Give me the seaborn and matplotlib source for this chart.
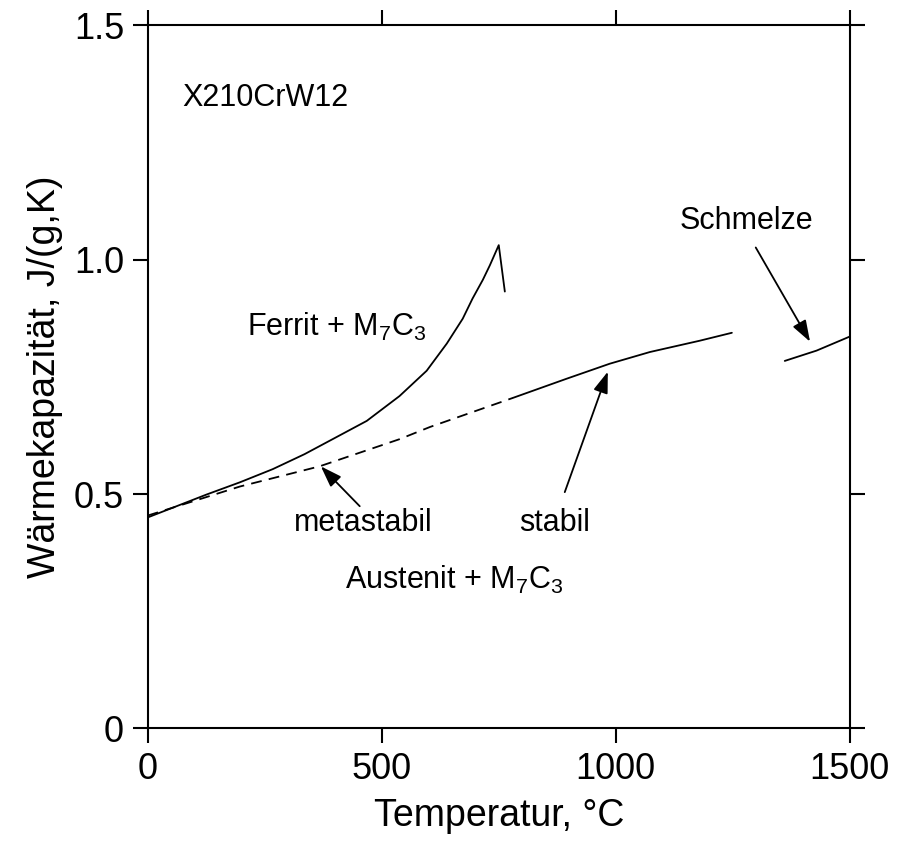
import numpy as np
import pandas as pd
import matplotlib
matplotlib.use("Agg")
import matplotlib.pyplot as plt
import seaborn as sns

sns.set_style("ticks")
plt.rcParams['font.family'] = ['Liberation Sans', 'DejaVu Sans']
plt.rcParams['mathtext.fontset'] = 'custom'
plt.rcParams['mathtext.rm'] = 'Liberation Sans'
plt.rcParams['mathtext.it'] = 'Liberation Sans'
plt.rcParams['mathtext.default'] = 'regular'
plt.rcParams['text.color'] = 'black'
plt.rcParams['axes.labelcolor'] = 'black'
plt.rcParams['xtick.color'] = 'black'
plt.rcParams['ytick.color'] = 'black'

# Ferrit + M7C3 (solid, with peak at Curie temperature)
ferrit_T = [0, 126, 197, 267, 335, 395, 468, 538, 596, 639, 673, 694, 716, 731, 750, 763]
ferrit_cp = [0.450, 0.499, 0.525, 0.553, 0.585, 0.617, 0.656, 0.709, 0.763, 0.821,
             0.874, 0.917, 0.957, 0.988, 1.031, 0.932]

# Austenit + M7C3 metastabil (dashed)
meta_T = [0, 197, 367, 538, 603, 780]
meta_cp = [0.454, 0.516, 0.559, 0.617, 0.643, 0.705]

# Austenit + M7C3 stabil (solid)
stab_T = [780, 895, 987, 1073, 1179, 1248]
stab_cp = [0.705, 0.746, 0.778, 0.803, 0.827, 0.844]

# Schmelze
melt_T = [1361, 1429, 1500]
melt_cp = [0.784, 0.806, 0.836]

x_ticks = [0, 500, 1000, 1500]
x_ticklabels = ["0", "500", "1000", "1500"]
y_ticks = [0, 0.5, 1.0, 1.5]
y_ticklabels = ["0", "0.5", "1.0", "1.5"]

fig = plt.figure(figsize=(9.06, 8.44), dpi=100)
ax = fig.add_axes([0.163, 0.137, 0.775, 0.833])

sns.lineplot(x=ferrit_T, y=ferrit_cp, ax=ax, color='black', lw=1.3, sort=False)
sns.lineplot(x=meta_T, y=meta_cp, ax=ax, color='black', lw=1.3, sort=False)
ax.lines[-1].set_dashes((6, 4))
sns.lineplot(x=stab_T, y=stab_cp, ax=ax, color='black', lw=1.3, sort=False)
sns.lineplot(x=melt_T, y=melt_cp, ax=ax, color='black', lw=1.3, sort=False)

ax.set_xlim(0, 1500)
ax.set_ylim(0, 1.5)
ax.set_xticks(x_ticks)
ax.set_xticklabels(x_ticklabels)
ax.set_yticks(y_ticks)
ax.set_yticklabels(y_ticklabels)
ax.tick_params(axis='both', which='major', direction='out', length=11, width=1.5,
               labelsize=26, top=True, right=True, colors='black', pad=6)
for s in ax.spines.values():
    s.set_visible(True)
    s.set_linewidth(1.5)
    s.set_color('black')

ax.set_xlabel("Temperatur, °C", fontsize=27, labelpad=8)
ax.set_ylabel("Wärmekapazität, J/(g,K)", fontsize=27, labelpad=8)

fs = 22
ax.text(73, 1.346, "X210CrW12", fontsize=fs, ha='left', va='center')
ax.text(212, 0.857, "Ferrit + M$_7$C$_3$", fontsize=fs, ha='left', va='center')
ax.text(421, 0.317, "Austenit + M$_7$C$_3$", fontsize=fs, ha='left', va='center')
ax.text(460, 0.439, "metastabil", fontsize=fs, ha='center', va='center')
ax.text(870, 0.439, "stabil", fontsize=fs, ha='center', va='center')
ax.text(1280, 1.082, "Schmelze", fontsize=fs, ha='center', va='center')

arrow = dict(arrowstyle='-|>,head_length=1.3,head_width=0.45', color='black', lw=1.3,
             shrinkA=0, shrinkB=0, mutation_scale=10)
ax.annotate("", xy=(370, 0.559), xytext=(453, 0.474), arrowprops=arrow)
ax.annotate("", xy=(983, 0.761), xytext=(891, 0.504), arrowprops=arrow)
ax.annotate("", xy=(1415, 0.825), xytext=(1299, 1.026), arrowprops=arrow)

fig.savefig("out.png", dpi=100)
